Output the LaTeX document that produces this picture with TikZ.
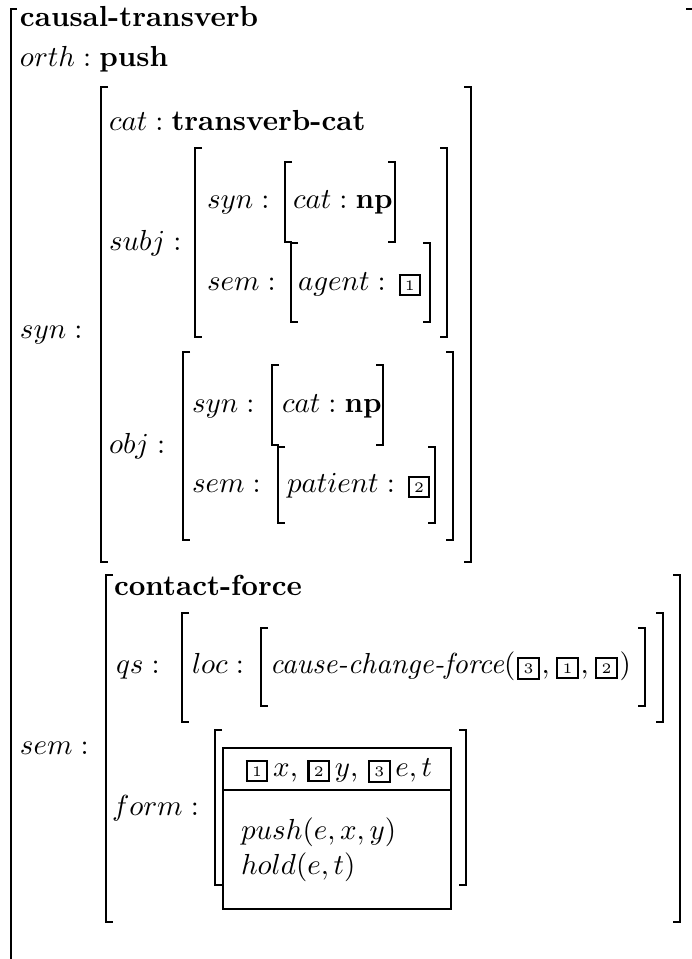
\documentclass[tikz,border=0pt]{standalone}
\newcommand\tg[1]{{\setlength{\fboxsep}{1.5pt}\setlength{\fboxrule}{0.7pt}\fbox{\fontsize{5}{5}\selectfont #1}}}
\newcommand\avmbr[4]{%
  \draw[brk] (#1+7,#2) -- (#1,#2) -- (#1,#4) -- (#1+7,#4);
  \draw[brk] (#3-7,#2) -- (#3,#2) -- (#3,#4) -- (#3-7,#4);}
\begin{document}
\begin{tikzpicture}[x=0.3448pt,y=-0.3448pt,
  lbl/.style={anchor=base west, inner sep=0pt, outer sep=0pt},
  brk/.style={line width=0.7pt},
  drsbox/.style={line width=1pt}]
\useasboundingbox (0,0) rectangle (692,959);
% outer bracket (cut off by the page)
\draw[brk] (17,9) -- (11,9) -- (11,970);
\draw[brk] (686,9) -- (695,9) -- (695,970);
\node[lbl] (t1) at (20,27) {\textbf{causal-transverb}};
\node[lbl] (t2) at (20,67) {$orth\mathrel{:}\mbox{\textbf{push}}$};
% syn
\node[lbl] (t3) at (20,338) {$syn:$};
\avmbr{101}{87}{471}{562}
\node[lbl] (t4) at (109,131) {$cat\mathrel{:}\mbox{\textbf{transverb-cat}}$};
\node[lbl] (t5) at (109,250) {$subj:$};
\avmbr{195}{148}{447}{337}
\node[lbl] (t6) at (207,209) {$syn:$};
\avmbr{285}{162}{395}{242}
\node[lbl] (t7) at (293,209) {$cat\mathrel{:}\mbox{\textbf{np}}$};
\node[lbl] (t8) at (207,290) {$sem:$};
\avmbr{291}{243}{430}{322}
\node[lbl] (t9) at (298,290) {$agent\mathrel{:}\,\tg{1}$};
\node[lbl] (t10) at (109,453) {$obj:$};
\avmbr{183}{352}{453}{540}
\node[lbl] (t11) at (192,412) {$syn:$};
\avmbr{272}{365}{383}{445}
\node[lbl] (t12) at (282,412) {$cat\mathrel{:}\mbox{\textbf{np}}$};
\node[lbl] (t13) at (192,492) {$sem:$};
\avmbr{278}{447}{435}{523}
\node[lbl] (t14) at (287,492) {$patient\mathrel{:}\,\tg{2}$};
% sem
\node[lbl] (t15) at (20,754) {$sem:$};
\avmbr{106}{575}{680}{922}
\node[lbl] (t16) at (114,595) {\textbf{contact-force}};
\node[lbl] (t17) at (116,673) {$qs:$};
\avmbr{182}{613}{663}{722}
\node[lbl] (t18) at (192,673) {$loc:$};
\avmbr{261}{628}{645}{706}
\node[lbl] (t19) at (270,673) {\textit{cause-change-force}$(\hspace{0.6pt}\tg{3}\hspace{0.6pt},\hspace{0.6pt}\tg{1}\hspace{0.6pt},\hspace{0.6pt}\tg{2}\hspace{0.6pt})$};
\node[lbl] (t20) at (112,815) {$form:$};
\avmbr{215}{730}{466}{885}
\draw[drsbox, fill=white] (223,748) rectangle (451,909);
\draw[drsbox] (223,790) -- (451,790);
\node[anchor=base, inner sep=0pt] (hd) at (339,776) {\tg{1}\,$x$, \tg{2}\,$y$, \tg{3}\,$e,t$};
\node[lbl] (c1) at (241,839) {$push(e,x,y)$};
\node[lbl] (c2) at (241,874) {$hold(e,t)$};
\end{tikzpicture}
\end{document}
